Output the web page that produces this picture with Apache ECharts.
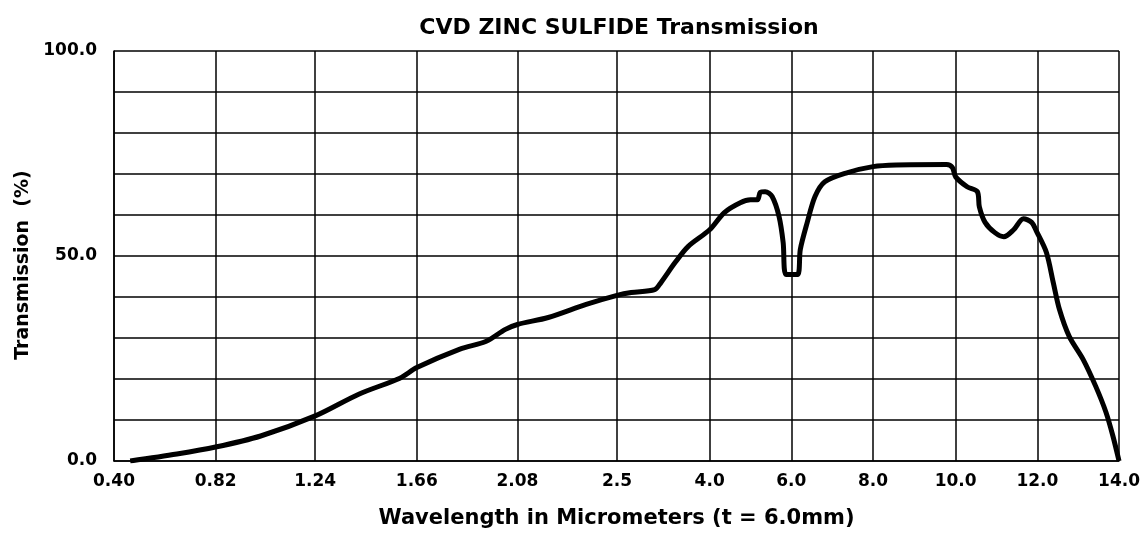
<!DOCTYPE html>
<html>
<head>
<meta charset="utf-8">
<script src="https://cdn.jsdelivr.net/npm/echarts@6/dist/echarts.min.js"></script>
<style>
    * { margin: 0; padding: 0; }
    body { background: #fff; }
</style>
</head>
<body>
<!-- chart container -->
<div id="zns" style="width: 1143px;height: 534px;"></div>
<script>
    // wavelength (um) and transmission (%)
    var wavelength = [0.467, 0.66, 0.82, 1.01, 1.24, 1.42, 1.59, 1.66, 1.84, 1.95, 2.03, 2.08, 2.21, 2.37, 2.5,
        2.73, 3.11, 3.21, 3.44, 3.65, 4.0, 4.36, 4.75, 5.0, 5.17, 5.24, 5.36, 5.53, 5.70, 5.80, 5.87,
        6.15, 6.22, 6.39, 6.58, 6.82, 7.36, 8.0, 8.56, 9.78, 9.92, 10.0, 10.28, 10.53, 10.58, 10.72, 10.96,
        11.18, 11.42, 11.66, 11.86, 11.98, 12.22, 12.39, 12.54, 12.78, 13.12, 13.43, 13.68, 13.85, 14.0]
    var transmission = [0, 1.7, 3.4, 6.1, 11.0, 16.3, 20.2, 22.8, 27.3, 29.2, 32.1, 33.3, 35.0, 38.2, 40.4,
        41.1, 41.8, 43.5, 48.4, 52.3, 56.4, 60.6, 63.0, 63.7, 63.7, 65.5, 65.7, 64.5, 59.6, 53.3, 45.5,
        45.5, 51.6, 58.2, 64.5, 68.1, 70.3, 71.8, 72.2, 72.3, 71.6, 69.3, 66.9, 65.7, 62.0, 58.2, 55.7,
        54.7, 56.4, 59.1, 58.2, 56.0, 50.9, 43.5, 37.0, 30.4, 24.8, 18.2, 11.9, 6.1, 0]

    // the x axis of the original is stretched piecewise: tick wavelengths and where they sit on it
    var tickWavelengths = [0.40, 0.82, 1.24, 1.66, 2.08, 2.5, 4.0, 6.0, 8.0, 10.0, 12.0, 14.0]
    var tickLabels = ['0.40', '0.82', '1.24', '1.66', '2.08', '2.5', '4.0', '6.0', '8.0', '10.0', '12.0', '14.0']
    var tickScale = [0, 102, 202, 304, 405, 505, 598, 680, 762, 845, 927, 1009]
    var yLabels = {0: '0.0', 50: '50.0', 100: '100.0'}

    function toAxis(w) {
        for (var i = 0; i < tickWavelengths.length - 1; i++) {
            var a = tickWavelengths[i], b = tickWavelengths[i + 1]
            if (w <= b || i == tickWavelengths.length - 2) {
                return tickScale[i] + (w - a) / (b - a) * (tickScale[i + 1] - tickScale[i])
            }
        }
    }

    var points = wavelength.map(function (w, i) {
        return [toAxis(w), transmission[i]]
    })

    var font = '"DejaVu Sans", sans-serif'
    var chart = echarts.init(document.getElementById('zns'))
    chart.setOption({
        animation: false,
        title: {
            text: 'CVD ZINC SULFIDE Transmission',
            left: 614,
            textAlign: 'center',
            top: 12,
            textStyle: {color: '#000', fontSize: 22, fontWeight: 'bold', fontFamily: font}
        },
        grid: {left: 114, right: 20, top: 51, bottom: 72, containLabel: false},
        xAxis: {
            type: 'value',
            min: 0,
            max: tickScale[tickScale.length - 1],
            name: 'Wavelength in Micrometers (t = 6.0mm)',
            nameLocation: 'middle',
            nameGap: 47,
            nameTextStyle: {color: '#000', fontSize: 21, fontWeight: 'bold', fontFamily: font},
            axisLine: {show: true, lineStyle: {color: '#000', width: 1.5}},
            axisTick: {show: false, customValues: tickScale},
            axisLabel: {
                customValues: tickScale,
                margin: 12,
                color: '#000',
                fontSize: 17,
                fontWeight: 'bold',
                fontFamily: font,
                formatter: function (v) {
                    var i = tickScale.indexOf(v)
                    return i < 0 ? '' : tickLabels[i]
                }
            },
            splitLine: {show: true, lineStyle: {color: '#000', width: 1.5}}
        },
        yAxis: {
            type: 'value',
            min: 0,
            max: 100,
            interval: 10,
            name: 'Transmission  (%)',
            nameLocation: 'middle',
            nameGap: 80,
            nameTextStyle: {color: '#000', fontSize: 19, fontWeight: 'bold', fontFamily: font, padding: [0, 18, 0, 0]},
            axisLine: {show: true, lineStyle: {color: '#000', width: 1.5}},
            axisTick: {show: false},
            axisLabel: {
                margin: 17,
                color: '#000',
                fontSize: 17,
                fontWeight: 'bold',
                fontFamily: font,
                formatter: function (v) {
                    return yLabels[v] || ''
                }
            },
            splitLine: {show: true, lineStyle: {color: '#000', width: 1.5}}
        },
        series: [{
            name: 'Transmission',
            type: 'line',
            data: points,
            smooth: 0.3,
            showSymbol: false,
            lineStyle: {color: '#000', width: 5},
            z: 5
        }]
    })
</script>
</body>
</html>
